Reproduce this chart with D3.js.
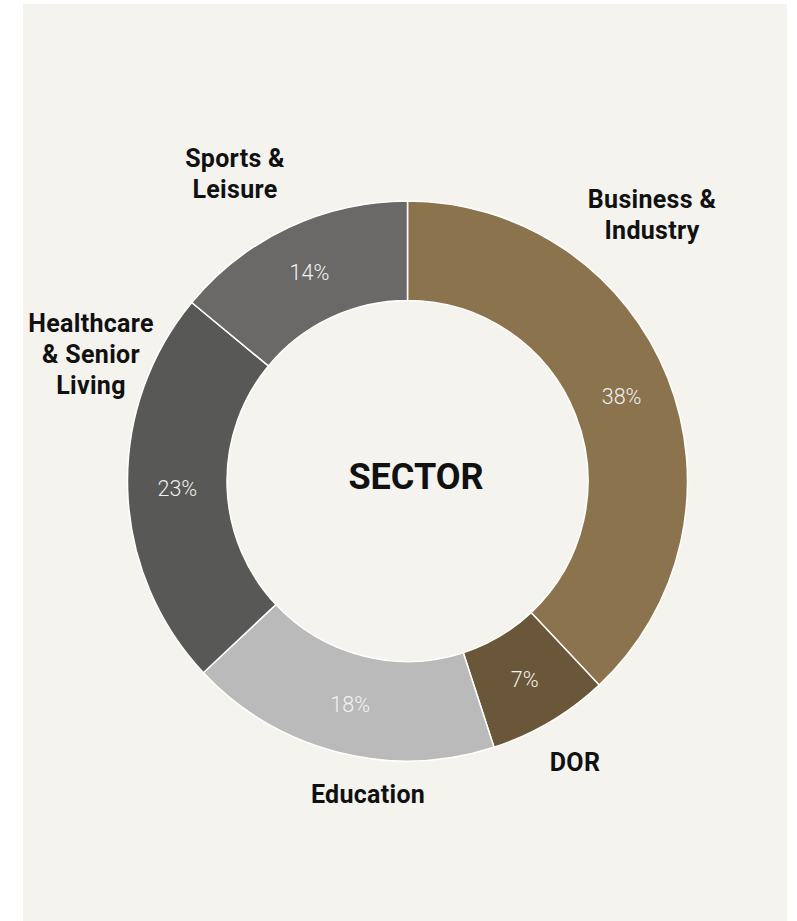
<!DOCTYPE html>
<html>
<head>
<meta charset="utf-8">
<script src="https://cdn.jsdelivr.net/npm/d3@7"></script>
<style>
  html, body { margin: 0; padding: 0; background: #ffffff; }
  svg { display: block; }
</style>
</head>
<body>
<svg id="chart" width="797" height="921"></svg>
<script>
// Sector mix, clockwise from 12 o'clock
const sectors = ["Business & Industry", "DOR", "Education", "Healthcare & Senior Living", "Sports & Leisure"];
const shares = [38, 7, 18, 23, 14];
const percentLabels = ["38%", "7%", "18%", "23%", "14%"];
const nameLines = [
  ["Business &", "Industry"],
  ["DOR"],
  ["Education"],
  ["Healthcare", "& Senior", "Living"],
  ["Sports &", "Leisure"]
];
const centerTitle = "SECTOR";

// Presentation
const fills = ["#8b734e", "#6a5638", "#bababa", "#585856", "#6a6967"];
const nameAnchors = [ // first-line baseline for each sector name
  [652, 208], [575, 771], [368, 803], [91, 332], [235, 167]
];

const W = 797, H = 921;
const cx = 407.5, cy = 481;
const outerR = 280, innerR = 180.5;
const font = "Roboto, 'Liberation Sans', sans-serif";

const svg = d3.select("#chart");

svg.append("rect")
  .attr("x", 23).attr("y", 4)
  .attr("width", 764).attr("height", H - 4)
  .attr("fill", "#f4f3ee");

const pie = d3.pie().sort(null).value(d => d)(shares);
const arc = d3.arc().innerRadius(innerR).outerRadius(outerR);
const labelArc = d3.arc().innerRadius((innerR + outerR) / 2).outerRadius((innerR + outerR) / 2);

const g = svg.append("g").attr("transform", `translate(${cx},${cy})`);

g.selectAll("path.slice")
  .data(pie)
  .join("path")
  .attr("class", "slice")
  .attr("d", arc)
  .attr("fill", (d, i) => fills[i])
  .attr("stroke", "#ffffff")
  .attr("stroke-width", 1.5);

g.selectAll("text.pct")
  .data(pie)
  .join("text")
  .attr("class", "pct")
  .attr("transform", d => `translate(${labelArc.centroid(d)})`)
  .attr("text-anchor", "middle")
  .attr("dy", "0.36em")
  .attr("font-family", font)
  .attr("font-weight", 300)
  .attr("font-size", 21.5)
  .attr("fill", "#f2f2f2")
  .text((d, i) => percentLabels[i]);

g.append("text")
  .attr("text-anchor", "middle")
  .attr("x", 8.5)
  .attr("y", 7.5)
  .attr("font-family", font)
  .attr("font-weight", 700)
  .attr("font-size", 36)
  .attr("fill", "#111111")
  .text(centerTitle);

const names = svg.selectAll("text.name")
  .data(sectors)
  .join("text")
  .attr("class", "name")
  .attr("text-anchor", "middle")
  .attr("font-family", font)
  .attr("font-weight", 700)
  .attr("font-size", 25)
  .attr("letter-spacing", 0.3)
  .attr("fill", "#111111");

names.each(function (d, i) {
  const [x, y] = nameAnchors[i];
  d3.select(this).selectAll("tspan")
    .data(nameLines[i])
    .join("tspan")
    .attr("x", x)
    .attr("y", (t, j) => y + j * 31)
    .text(t => t);
});
</script>
</body>
</html>
